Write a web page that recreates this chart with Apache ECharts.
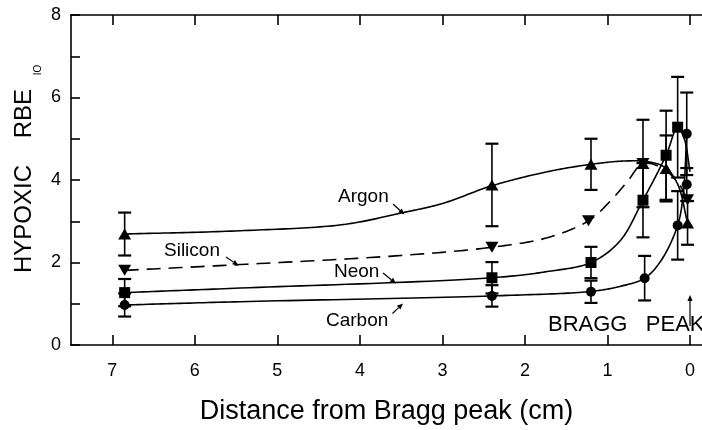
<!DOCTYPE html>
<html>
<head>
<meta charset="utf-8">
<script src="https://cdn.jsdelivr.net/npm/echarts@6/dist/echarts.min.js"></script>
<style>
  html, body { margin: 0; padding: 0; background: #fff; }
  #chart { width: 702px; height: 430px; }
</style>
</head>
<body>
<div id="chart"></div>
<script>
// measured points (distance from peak in cm, RBE, error half-width)
const argonX = [6.85, 2.4, 1.2, 0.57, 0.29, 0.03];
const argonY = [2.69, 3.88, 4.38, 4.4, 4.28, 2.96];
const argonErr = [0.52, 1.0, 0.62, 1.06, 0.8, 0.53];

const siliconX = [6.85, 2.4, 1.23, 0.57, 0.03];
const siliconY = [1.81, 2.37, 3.01, 4.4, 3.52];

const neonX = [6.85, 2.4, 1.2, 0.57, 0.29, 0.15];
const neonY = [1.27, 1.63, 2.0, 3.51, 4.6, 5.28];
const neonErr = [0.33, 0.38, 0.38, 0.9, 1.08, 1.22];

const carbonX = [6.85, 2.4, 1.2, 0.55, 0.15, 0.04, 0.04];
const carbonY = [0.97, 1.19, 1.29, 1.62, 2.9, 5.12, 3.89];
const carbonErr = [0.28, 0.26, 0.27, 0.54, 0.83, 1.0, 0.4];

// hand-drawn fit curves
const argonCurve = [[6.85, 2.69], [5.45, 2.77], [4.2, 2.92], [3.5, 3.2], [3.0, 3.43], [2.4, 3.86],
  [1.73, 4.2], [1.2, 4.38], [0.8, 4.46], [0.5, 4.44], [0.3, 4.3], [0.15, 3.9], [0.03, 2.96]];
const siliconCurve = [[6.85, 1.81], [5.45, 1.95], [3.5, 2.17], [2.4, 2.37], [1.73, 2.6],
  [1.23, 3.01], [0.97, 3.48], [0.76, 3.96], [0.57, 4.4], [0.35, 4.3], [0.15, 3.95], [0.03, 3.52]];
const neonCurve = [[6.85, 1.27], [5.45, 1.38], [2.4, 1.63], [1.73, 1.78], [1.2, 2.0],
  [0.85, 2.52], [0.57, 3.51], [0.29, 4.6], [0.15, 5.28], [0.07, 5.0], [0.0, 4.2]];
const carbonCurve = [[6.85, 0.97], [5.45, 1.05], [2.4, 1.19], [1.2, 1.3], [0.85, 1.42], [0.55, 1.62],
  [0.35, 2.05], [0.15, 2.9], [0.08, 3.7], [0.04, 5.12]];

const xTicks = [0, 1, 2, 3, 4, 5, 6, 7];

const FONT = 'Liberation Sans, Arial, sans-serif';

const zip = (xs, ys, es) => xs.map((x, i) => es ? [x, ys[i], es[i]] : [x, ys[i]]);

// centripetal catmull-rom through pixel points
const splinePoints = (pts) => {
  const n = pts.length;
  const out = [];
  const d = (a, b) => Math.pow(Math.hypot(b[0] - a[0], b[1] - a[1]), 0.5) || 1e-6;
  for (let i = 0; i < n - 1; i++) {
    const p1 = pts[i], p2 = pts[i + 1];
    const p0 = i > 0 ? pts[i - 1] : [2 * p1[0] - p2[0], 2 * p1[1] - p2[1]];
    const p3 = i < n - 2 ? pts[i + 2] : [2 * p2[0] - p1[0], 2 * p2[1] - p1[1]];
    const t0 = 0, t1 = t0 + d(p0, p1), t2 = t1 + d(p1, p2), t3 = t2 + d(p2, p3);
    const lerp = (a, b, ta, tb, t) => [
      ((tb - t) * a[0] + (t - ta) * b[0]) / (tb - ta),
      ((tb - t) * a[1] + (t - ta) * b[1]) / (tb - ta)
    ];
    const steps = 24;
    for (let s = 0; s < steps; s++) {
      const t = t1 + (t2 - t1) * s / steps;
      const a1 = lerp(p0, p1, t0, t1, t), a2 = lerp(p1, p2, t1, t2, t), a3 = lerp(p2, p3, t2, t3, t);
      const b1 = lerp(a1, a2, t0, t2, t), b2 = lerp(a2, a3, t1, t3, t);
      out.push(lerp(b1, b2, t1, t2, t));
    }
  }
  out.push(pts[n - 1]);
  return out;
};

const curve = (data, dashed) => ({
  type: 'custom',
  z: 2,
  data: data,
  renderItem: (params, api) => {
    if (params.dataIndex !== 0) return;
    const px = data.map((p) => api.coord(p));
    return {
      type: 'polyline',
      shape: { points: splinePoints(px) },
      style: { stroke: '#000', fill: null, lineWidth: 1.6, lineDash: dashed ? [14, 8] : null }
    };
  }
});

const errorBars = (data) => ({
  type: 'custom',
  z: 3,
  data: data,
  renderItem: (params, api) => {
    const x = api.value(0), y = api.value(1), e = api.value(2);
    const top = api.coord([x, y + e]);
    const bot = api.coord([x, y - e]);
    const w = 6.5;
    const style = { stroke: '#000', lineWidth: 1.6 };
    return {
      type: 'group',
      children: [
        { type: 'line', shape: { x1: top[0], y1: top[1], x2: bot[0], y2: bot[1] }, style },
        { type: 'line', shape: { x1: top[0] - w, y1: top[1], x2: top[0] + w, y2: top[1] }, style: { stroke: '#000', lineWidth: 2.2 } },
        { type: 'line', shape: { x1: bot[0] - w, y1: bot[1], x2: bot[0] + w, y2: bot[1] }, style: { stroke: '#000', lineWidth: 2.2 } }
      ]
    };
  }
});

const markers = (data, symbol, size, rotate) => ({
  type: 'scatter',
  data: data,
  symbol: symbol,
  symbolSize: size,
  symbolRotate: rotate || 0,
  z: 4,
  itemStyle: { color: '#000', opacity: 1 }
});

const arrow = (x1, y1, x2, y2) => {
  const ang = Math.atan2(y2 - y1, x2 - x1);
  const L = 6, W = 2.6;
  const bx = x2 - L * Math.cos(ang), by = y2 - L * Math.sin(ang);
  const px = -Math.sin(ang) * W, py = Math.cos(ang) * W;
  return [
    { type: 'line', shape: { x1, y1, x2: bx, y2: by }, style: { stroke: '#000', lineWidth: 1.2 } },
    { type: 'polygon', shape: { points: [[x2, y2], [bx + px, by + py], [bx - px, by - py]] }, style: { fill: '#000' } }
  ];
};

const label = (text, x, y, size) => ({
  type: 'text', x, y,
  style: { text, font: `${size}px ${FONT}`, fill: '#000', textAlign: 'left', textVerticalAlign: 'top' }
});

const chart = echarts.init(document.getElementById('chart'));

chart.setOption({
  animation: false,
  backgroundColor: '#fff',
  grid: { left: 71, right: 0, top: 15, bottom: 82 },
  xAxis: [
    {
      type: 'value', position: 'bottom', inverse: true, min: -0.145, max: 7.5,
      axisLine: { show: true, onZero: false, lineStyle: { color: '#000', width: 1.6 } },
      axisTick: { inside: true, length: 10, customValues: xTicks, lineStyle: { color: '#000', width: 1.6 } },
      axisLabel: { customValues: xTicks, color: '#000', fontSize: 18, fontFamily: FONT, margin: 17 },
      splitLine: { show: false },
      name: 'Distance from Bragg peak (cm)',
      nameLocation: 'middle', nameGap: 53,
      nameTextStyle: { color: '#000', fontSize: 27, fontFamily: FONT }
    },
    {
      type: 'value', position: 'top', inverse: true, min: -0.145, max: 7.5,
      axisLine: { show: true, onZero: false, lineStyle: { color: '#000', width: 1.6 } },
      axisTick: { inside: true, length: 10, customValues: xTicks, lineStyle: { color: '#000', width: 1.6 } },
      axisLabel: { show: false },
      splitLine: { show: false }
    }
  ],
  yAxis: {
    type: 'value', min: 0, max: 8, interval: 1,
    axisLine: { show: true, onZero: false, lineStyle: { color: '#000', width: 1.6 } },
    axisTick: { show: true, inside: true, length: 9, lineStyle: { color: '#000', width: 1.6 } },
    axisLabel: {
      color: '#000', fontSize: 18, fontFamily: FONT, margin: 10,
      formatter: (v) => (v % 2 === 0 ? String(v) : '')
    },
    splitLine: { show: false }
  },
  series: [
    curve(argonCurve, false),
    curve(siliconCurve, true),
    curve(neonCurve, false),
    curve(carbonCurve, false),
    errorBars(zip(argonX, argonY, argonErr)),
    errorBars(zip(neonX, neonY, neonErr)),
    errorBars(zip(carbonX, carbonY, carbonErr)),
    markers(zip(argonX, argonY), 'triangle', [13, 11]),
    markers(zip(siliconX, siliconY), 'triangle', [13, 11], 180),
    markers(zip(neonX, neonY), 'rect', 11),
    markers(zip(carbonX, carbonY), 'circle', 10)
  ],
  graphic: [
    {
      type: 'text', x: 12, y: 181, rotation: Math.PI / 2,
      style: { text: 'HYPOXIC    RBE', font: `24px ${FONT}`, fill: '#000', textAlign: 'center', textVerticalAlign: 'top' }
    },
    {
      type: 'text', x: 33, y: 70, rotation: Math.PI / 2,
      style: { text: 'IO', font: `10px ${FONT}`, fill: '#000', textAlign: 'center', textVerticalAlign: 'top' }
    },
    label('Argon', 338, 187, 19),
    label('Silicon', 164, 241, 19),
    label('Neon', 334, 262, 19),
    label('Carbon', 326, 311, 19),
    label('BRAGG   PEAK', 548, 314, 22),
    ...arrow(393, 204, 404.5, 214.5),
    ...arrow(226, 257, 238.5, 265.5),
    ...arrow(383, 273, 396, 283.5),
    ...arrow(392.5, 313.5, 403, 303.5),
    ...arrow(690, 326, 690, 295)
  ]
});
</script>
</body>
</html>
